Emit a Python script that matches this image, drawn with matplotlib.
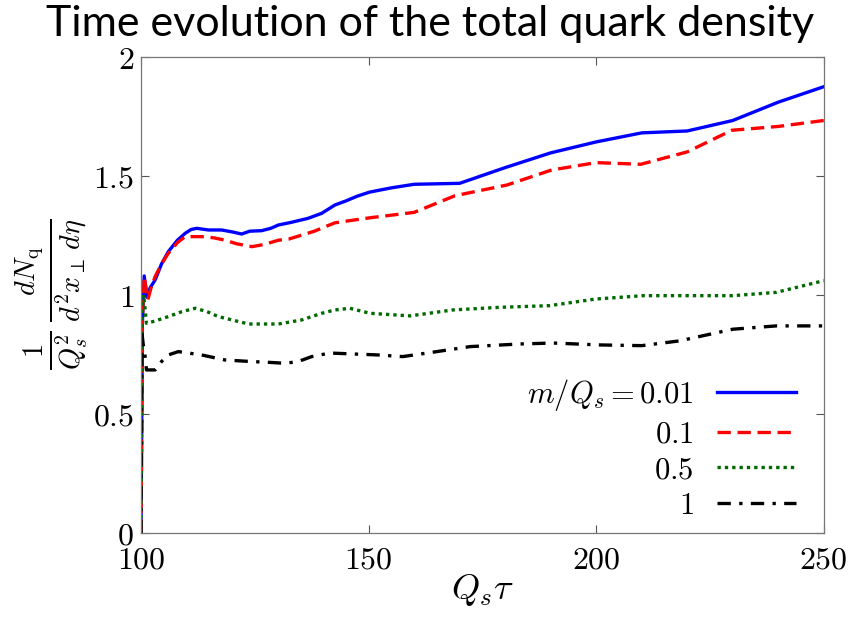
import numpy as np
import matplotlib
matplotlib.use("Agg")
import matplotlib.pyplot as plt

# data (Q_s tau, normalised quark density)
x_m001 = [100, 100.3, 100.7, 101.3, 102, 103.1, 104.5, 106, 108, 109.7, 111, 112.2, 114.8, 117.7, 120,
          122.1, 123.9, 126.5, 128.5, 130.2, 133, 136.7, 139.7, 142.6, 145, 147.5, 150.2, 155, 160, 170,
          180, 190, 200, 210, 220, 230, 240, 250]
y_m001 = [0, 0.88, 1.08, 0.99, 1.03, 1.063, 1.13, 1.182, 1.23, 1.259, 1.275, 1.28, 1.273, 1.273, 1.265,
          1.256, 1.268, 1.27, 1.28, 1.294, 1.305, 1.322, 1.343, 1.378, 1.395, 1.415, 1.432, 1.45, 1.465, 1.469,
          1.535, 1.597, 1.643, 1.681, 1.689, 1.733, 1.81, 1.875]

x_m01 = [100, 100.3, 100.7, 101.5, 102.2, 103.1, 104.5, 106, 108, 109.7, 113.4, 116, 118.5, 121, 124.4,
         127, 130.2, 132.5, 135.4, 138.1, 140.5, 142.6, 145, 150.2, 160, 169, 180.4, 190.2, 200, 209.8,
         220, 229.8, 240, 250]
y_m01 = [0, 0.9, 1.077, 0.98, 1.03, 1.077, 1.13, 1.175, 1.22, 1.245, 1.245, 1.24, 1.23, 1.215, 1.203,
         1.212, 1.23, 1.235, 1.252, 1.268, 1.287, 1.303, 1.31, 1.324, 1.347, 1.417, 1.462, 1.525, 1.556, 1.549,
         1.601, 1.692, 1.708, 1.733]

x_m05 = [100, 100.3, 100.6, 101.2, 103, 106, 109, 111.9, 114.5, 117, 120, 123.6, 130.2, 135.3, 139.7,
         142.6, 145.9, 150.3, 159.1, 168.5, 178.7, 189.7, 200, 210.3, 220.5, 230, 239.6, 250]
y_m05 = [0, 0.95, 1.0, 0.881, 0.89, 0.909, 0.93, 0.944, 0.93, 0.909, 0.895, 0.878, 0.878, 0.895, 0.923,
         0.937, 0.944, 0.923, 0.912, 0.937, 0.948, 0.955, 0.983, 0.997, 0.997, 0.997, 1.011, 1.06]

x_m1 = [100, 100.2, 100.5, 100.8, 101.2, 103.1, 104.5, 106, 108.2, 113.3, 118.4, 124.3, 127, 131.6, 134.5,
        137.5, 141.5, 146.6, 152, 157.5, 165, 172.3, 183.2, 190.5, 200.8, 210, 218.3, 230, 239.6, 250]
y_m1 = [0, 0.84, 0.79, 0.76, 0.685, 0.685, 0.72, 0.748, 0.762, 0.748, 0.727, 0.72, 0.718, 0.713, 0.72,
        0.741, 0.756, 0.752, 0.748, 0.741, 0.762, 0.783, 0.794, 0.798, 0.79, 0.787, 0.807, 0.856, 0.87, 0.87]

labels = [r"$m/Q_s = 0.01$", r"$0.1$", r"$0.5$", r"$1$"]
xticks = [100, 150, 200, 250]
yticks = [0, 0.5, 1, 1.5, 2]

plt.rcParams["mathtext.fontset"] = "cm"

fig = plt.figure(figsize=(8.51, 6.19), dpi=100)
ax = fig.add_axes([0.1657, 0.139, 0.8023, 0.769])

lw = 2.4
ax.plot(x_m001, y_m001, color="#0000ff", lw=lw, ls="-", label=labels[0])
ax.plot(x_m01, y_m01, color="#ff0000", lw=lw, ls=(0, (4, 2)), label=labels[1])
ax.plot(x_m05, y_m05, color="#006a00", lw=lw, ls=(0, (1, 1.2)), label=labels[2])
ax.plot(x_m1, y_m1, color="black", lw=lw, ls=(0, (4, 2.5, 1, 2.5)), label=labels[3])

ax.set_xlim(100, 250)
ax.set_ylim(0, 2)
ax.set_xticks(xticks)
ax.set_yticks(yticks)
ax.set_xticklabels([f"${t:g}$" for t in xticks])
ax.set_yticklabels([f"${t:g}$" for t in yticks])
ax.tick_params(direction="in", top=True, right=True, labelsize=23, length=6, width=0.8,
               color="#555555", pad=5)
ax.tick_params(axis="x", pad=8)
for s in ax.spines.values():
    s.set_color("#777777")
    s.set_linewidth(0.9)

ax.set_xlabel(r"$Q_s\tau$", fontsize=26, labelpad=-2)
ax.set_ylabel(r"$\frac{1}{Q_s^2}\,\frac{dN_{\rm q}}{d^2x_\perp\, d\eta}$", fontsize=29, labelpad=2)

leg = ax.legend(loc="lower right", frameon=False, markerfirst=False, fontsize=22,
                handlelength=2.6, handletextpad=0.75, labelspacing=0.22,
                bbox_to_anchor=(1.0, -0.03))
for t in leg.get_texts():
    t.set_ha("right")

fig.text(0.505, 0.962, "Time evolution of the total quark density", ha="center", va="center",
         fontsize=31, family=["Lato", "DejaVu Sans"])

fig.savefig("out.png", dpi=100)
